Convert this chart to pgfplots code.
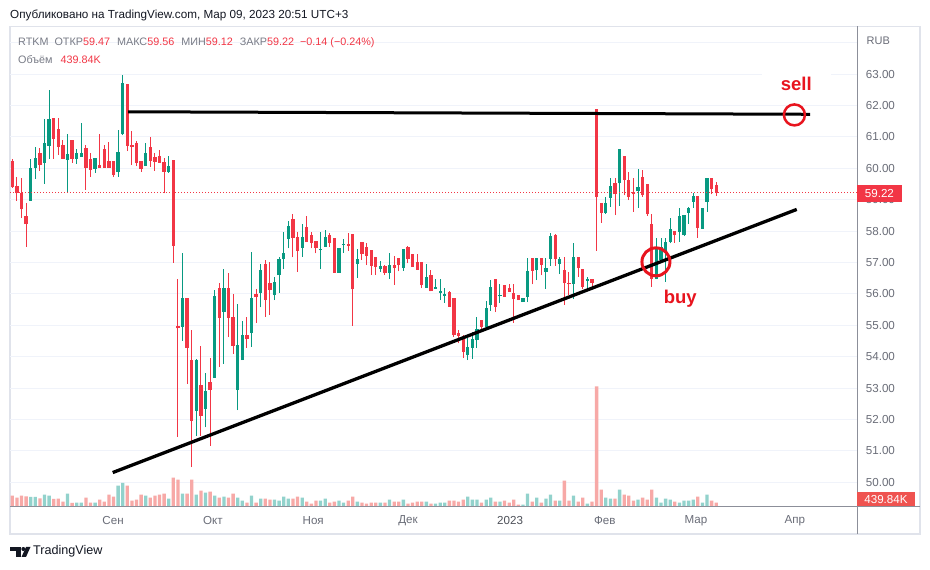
\documentclass[border=0pt]{standalone}
\usepackage{pgfplots}
\pgfplotsset{compat=1.18}
\usepackage{pgfplotstable}
\usepackage{fontspec}
\setmainfont{Liberation Sans}
\definecolor{cgreen}{HTML}{089981}
\definecolor{cred}{HTML}{F23645}
\definecolor{vgreen}{HTML}{92D2CC}
\definecolor{vred}{HTML}{F7A9A7}
\definecolor{tvgray}{HTML}{787B86}
\definecolor{lblgray}{HTML}{6A6D78}
\definecolor{gridc}{HTML}{F0F3FA}
\definecolor{bordc}{HTML}{E0E3EB}
\definecolor{sepc}{HTML}{8C8F99}
\definecolor{txtc}{HTML}{131722}
\definecolor{annred}{HTML}{E8141E}
\definecolor{volbox}{HTML}{EF5350}
\pgfplotstableread{
i o h l c up v
0 60.24 60.30 59.38 59.41 0 1156
1 59.44 59.73 58.97 59.20 0 952
2 59.20 59.70 58.43 58.69 0 1156
3 58.49 58.90 57.50 58.22 0 1088
4 58.97 60.30 58.97 60.01 1 1020
5 60.01 60.68 59.67 60.33 1 1020
6 60.49 60.65 59.92 60.12 0 884
7 60.18 61.57 59.51 60.81 1 1258
8 60.72 62.49 60.30 61.57 1 1156
9 61.60 61.60 60.31 60.94 0 816
10 61.25 61.60 60.43 60.69 0 850
11 60.74 60.90 60.30 60.31 0 544
12 60.27 61.09 59.24 60.46 1 1360
13 60.90 60.90 60.18 60.31 0 408
14 60.31 60.61 60.15 60.49 1 442
15 60.36 61.44 60.36 60.49 1 442
16 60.65 60.74 59.32 60.01 0 952
17 60.31 60.49 59.73 59.96 0 442
18 59.99 60.33 59.86 60.33 1 442
19 60.09 61.09 60.02 60.02 0 748
20 60.61 60.74 60.01 60.01 0 544
21 60.23 60.84 60.02 60.02 0 1258
22 60.23 60.23 59.73 59.80 0 1054
23 59.89 61.22 59.73 60.52 1 2176
24 61.08 62.97 61.05 62.72 1 2448
25 62.68 62.68 60.55 60.71 0 2176
26 60.74 61.19 60.10 60.68 0 646
27 60.82 60.87 60.07 60.18 0 748
28 60.24 60.24 59.89 59.99 0 1258
29 60.07 60.81 60.07 60.49 1 1156
30 60.68 60.99 60.05 60.24 0 952
31 60.36 60.50 59.92 60.21 0 1156
32 60.39 60.58 60.18 60.18 0 1258
33 60.20 60.33 59.20 59.89 0 1360
34 59.89 60.39 59.86 60.07 1 850
35 60.26 60.26 56.99 57.54 0 2992
36 54.98 56.47 51.45 54.90 0 2788
37 54.96 57.31 54.51 55.86 1 1360
38 55.86 55.86 53.14 54.29 0 1360
39 53.89 54.85 50.48 51.96 0 2788
40 52.28 53.93 51.48 53.89 1 1258
41 53.10 54.35 51.48 52.12 0 1666
42 52.33 53.47 51.75 52.91 1 1462
43 53.19 53.97 51.17 52.94 0 1564
44 53.33 56.12 53.33 55.93 1 1156
45 56.19 56.36 53.68 55.24 0 952
46 55.43 56.79 53.77 56.19 1 1054
47 56.19 56.68 54.62 55.24 0 952
48 55.27 56.00 54.09 54.35 0 1360
49 52.94 55.68 52.30 54.37 1 952
50 53.89 55.14 53.89 54.69 1 646
51 54.69 55.25 54.29 54.56 0 442
52 54.76 57.34 54.32 55.87 1 1156
53 56.00 56.17 55.08 55.90 0 442
54 56.04 56.96 55.57 56.76 1 850
55 56.95 57.08 55.27 55.81 0 850
56 56.35 57.00 55.33 56.12 0 748
57 55.96 56.53 55.80 56.38 1 748
58 56.60 57.19 56.04 57.11 1 646
59 57.11 57.96 56.79 57.31 1 1054
60 57.75 58.32 57.45 58.16 1 850
61 58.38 58.54 57.16 57.79 0 850
62 57.82 57.96 56.71 57.38 0 1054
63 57.47 58.23 57.19 57.82 1 952
64 58.12 58.49 57.65 57.65 0 544
65 57.88 57.98 57.45 57.63 0 340
66 57.68 57.68 57.29 57.47 0 646
67 57.39 57.97 56.79 57.42 1 646
68 57.50 58.03 57.50 57.82 1 850
69 57.88 57.93 57.50 57.63 0 442
70 57.79 57.79 56.68 56.68 0 544
71 56.68 57.45 56.68 57.45 1 646
72 57.56 57.75 57.31 57.58 1 442
73 57.60 57.93 57.37 57.54 0 646
74 57.91 57.91 54.98 56.14 0 1054
75 56.95 57.43 56.52 57.11 1 544
76 57.65 57.65 57.08 57.27 0 442
77 57.50 57.61 56.92 57.22 0 340
78 57.40 57.40 56.61 56.90 0 442
79 57.19 57.19 56.61 56.87 0 442
80 56.79 57.05 56.71 56.90 1 442
81 56.90 56.92 56.61 56.68 0 442
82 56.68 57.31 56.48 56.93 1 748
83 56.93 57.21 56.29 56.82 0 544
84 57.14 57.14 56.72 56.93 0 544
85 56.84 57.43 56.74 57.43 1 748
86 57.50 57.54 56.97 57.11 0 340
87 57.27 57.27 56.87 56.87 0 442
88 57.02 57.26 56.77 56.77 0 544
89 57.02 57.02 56.18 56.27 0 544
90 56.19 56.95 56.19 56.53 1 544
91 56.59 56.76 56.08 56.08 0 340
92 56.17 56.49 56.17 56.21 1 340
93 56.04 56.47 55.80 56.10 1 442
94 55.93 56.19 55.72 56.00 1 442
95 56.07 56.10 55.59 55.59 0 646
96 55.86 55.86 54.62 54.69 0 646
97 54.74 54.85 54.42 54.66 0 544
98 54.64 54.69 53.97 54.16 0 748
99 54.05 54.60 53.89 54.32 1 1054
100 54.29 54.78 53.93 54.56 1 748
101 54.53 55.27 54.29 54.88 1 748
102 55.17 55.17 54.82 54.95 0 442
103 54.95 55.78 54.95 55.56 1 748
104 55.65 56.43 55.47 56.22 1 952
105 56.47 56.47 55.42 55.59 0 544
106 55.92 56.31 55.72 55.97 1 544
107 56.28 56.28 55.91 55.91 0 646
108 56.20 56.31 56.07 56.07 0 442
109 56.02 56.31 55.08 55.85 0 748
110 55.95 55.95 55.80 55.80 0 238
111 55.74 55.88 55.74 55.88 1 238
112 55.91 57.14 55.74 56.73 1 1360
113 57.14 57.14 56.30 56.73 0 544
114 56.76 57.14 56.44 57.14 1 952
115 57.14 57.14 56.60 56.92 0 442
116 56.71 57.14 56.16 56.82 1 850
117 57.11 57.93 56.89 57.84 1 1258
118 57.89 57.92 56.90 57.11 0 646
119 56.95 57.19 56.63 57.11 1 646
120 56.76 57.19 55.65 56.34 0 2686
121 56.36 56.70 55.96 56.30 0 646
122 56.33 57.63 55.85 57.16 1 1156
123 57.16 57.16 56.54 56.83 0 544
124 56.78 56.78 56.17 56.23 0 952
125 56.42 56.54 56.17 56.46 1 340
126 56.47 56.49 56.23 56.36 0 544
127 61.88 61.88 57.37 59.09 0 12308
128 58.88 58.88 58.26 58.58 0 1768
129 58.58 59.09 58.56 58.91 1 952
130 59.06 59.70 58.77 59.44 1 850
131 59.52 59.70 58.51 59.17 0 850
132 59.52 60.63 58.81 60.60 1 1768
133 60.40 60.40 59.14 59.64 0 1258
134 59.64 59.89 58.99 59.09 0 1156
135 59.23 59.70 58.61 59.17 0 646
136 59.27 59.97 58.74 59.41 1 748
137 59.73 59.94 59.09 59.14 0 952
138 59.50 59.50 58.49 58.54 0 748
139 58.24 58.54 55.82 56.49 0 1768
140 56.49 57.77 56.47 57.50 1 952
141 57.08 57.77 57.02 57.50 1 442
142 57.29 57.77 56.39 57.66 1 850
143 57.66 58.42 57.61 58.08 1 748
144 58.00 58.00 57.63 57.89 0 544
145 57.98 58.74 57.66 58.48 1 442
146 57.87 58.51 57.84 58.51 1 646
147 58.58 58.77 58.24 58.74 1 646
148 58.93 59.20 58.74 59.12 1 748
149 59.12 59.12 57.79 58.10 0 1054
150 58.08 58.74 58.08 58.74 1 442
151 58.93 59.70 58.61 59.70 1 1258
152 59.68 59.70 59.17 59.33 0 646
153 59.47 59.56 59.12 59.22 0 439.84
}\data
\begin{document}
\begin{tikzpicture}[x=1pt,y=1pt]
\path[use as bounding box, fill=white] (0,0) rectangle (930,570);
% header
\node[anchor=west, inner sep=0, font=\fontsize{11.7}{14}\selectfont, text=txtc] at (10,555) {Опубликовано на TradingView.com, Мар 09, 2023 20:51 UTC+3};
% frame
\draw[bordc, line width=1.5pt] (10,36) rectangle (920,543.5);
\begin{axis}[
  at={(10pt,63pt)}, anchor=south west,
  width=847pt, height=480pt, scale only axis,
  xmin=-0.5, xmax=183.6, ymin=49.213, ymax=64.5,
  axis line style={draw=none},
  major tick length=0pt,
  xtick pos=bottom, ytick pos=right,
  xticklabel pos=bottom, yticklabel pos=right,
  ytick={50,51,52,53,54,55,56,57,58,59,60,61,62,63,64},
  yticklabels={50.00,51.00,52.00,53.00,54.00,55.00,56.00,57.00,58.00,59.00,60.00,61.00,62.00,63.00,{}},
  xtick={21.9,43.6,65.4,86.0,108.2,128.8,148.6,170.1},
  xticklabels={Сен,Окт,Ноя,Дек,\textcolor{txtc!75}{2023},Фев,Мар,Апр},
  ymajorgrids, grid style={gridc, line width=1pt},
  tick label style={font=\fontsize{11.6}{13}\selectfont, text=lblgray},
  yticklabel style={anchor=west, inner sep=0pt, xshift=8.7pt},
  xticklabel style={anchor=center, inner sep=0pt, yshift=-14pt},
  /pgf/number format/assume math mode=true,
]
% volume
\addplot[ybar, bar width=3.3pt, bar shift=0pt, fill=vgreen, draw=none, forget plot,
  restrict expr to domain={\thisrow{up}}{0.5:1.5}]
  table[x=i, y expr={49.213+\thisrow{v}/3202.8}] {\data};
\addplot[ybar, bar width=3.3pt, bar shift=0pt, fill=vred, draw=none, forget plot,
  restrict expr to domain={\thisrow{up}}{-0.5:0.5}]
  table[x=i, y expr={49.213+\thisrow{v}/3202.8}] {\data};
% wicks
\addplot[draw=none, no markers, forget plot,
  restrict expr to domain={\thisrow{up}}{0.5:1.5},
  error bars/.cd, y dir=plus, y explicit, error mark=none,
  error bar style={draw=cgreen, line width=1pt}]
  table[x=i, y=l, y error expr={\thisrow{h}-\thisrow{l}}] {\data};
\addplot[draw=none, no markers, forget plot,
  restrict expr to domain={\thisrow{up}}{-0.5:0.5},
  error bars/.cd, y dir=plus, y explicit, error mark=none,
  error bar style={draw=cred, line width=1pt}]
  table[x=i, y=l, y error expr={\thisrow{h}-\thisrow{l}}] {\data};
% bodies
\addplot[draw=none, no markers, forget plot,
  restrict expr to domain={\thisrow{up}}{0.5:1.5},
  error bars/.cd, y dir=plus, y explicit, error mark=none,
  error bar style={draw=cgreen, line width=3.3pt}]
  table[x=i, y expr={min(\thisrow{o},\thisrow{c})}, y error expr={max(abs(\thisrow{c}-\thisrow{o}),0.035)}] {\data};
\addplot[draw=none, no markers, forget plot,
  restrict expr to domain={\thisrow{up}}{-0.5:0.5},
  error bars/.cd, y dir=plus, y explicit, error mark=none,
  error bar style={draw=cred, line width=3.3pt}]
  table[x=i, y expr={min(\thisrow{o},\thisrow{c})}, y error expr={max(abs(\thisrow{c}-\thisrow{o}),0.035)}] {\data};
% last price line
\addplot[cred, line width=0.8pt, dash pattern=on 1pt off 2pt, forget plot] coordinates {(-0.5,59.22) (183.6,59.22)};
% annotations
\addplot[black, line width=3pt, forget plot] coordinates {(25.2,61.80) (173.4,61.72)};
\addplot[black, line width=3.3pt, forget plot] coordinates {(21.83,50.31) (170.5,58.69)};
\draw[annred, line width=2.5pt] (axis cs:170.0,61.70) circle[radius=10.5pt];
\draw[annred, line width=3pt] (axis cs:139.9,57.02) circle[radius=14pt];
\node[fill=white, minimum width=69pt, inner ysep=3pt, text=annred, font=\bfseries\fontsize{18.5}{20}\selectfont] at (axis cs:170.4,62.68) {sell};
\node[fill=white, minimum width=60pt, inner ysep=3pt, text=annred, font=\bfseries\fontsize{18.5}{20}\selectfont] at (axis cs:145.2,55.84) {buy};
\end{axis}
% separators
\draw[sepc, line width=1pt] (857,36) -- (857,543.5);
\draw[sepc, line width=1pt] (10,63) -- (920,63);
% legend
\node[anchor=west, inner sep=0, font=\fontsize{10.8}{13}\selectfont] at (18,527.5) {\textcolor{tvgray}{RTKM\hspace{6pt}ОТКР}\textcolor{cred}{59.47}\hspace{7pt}\textcolor{tvgray}{МАКС}\textcolor{cred}{59.56}\hspace{7pt}\textcolor{tvgray}{МИН}\textcolor{cred}{59.12}\hspace{7pt}\textcolor{tvgray}{ЗАКР}\textcolor{cred}{59.22}\hspace{6pt}\textcolor{cred}{−0.14 (−0.24\%)}};
\node[anchor=west, inner sep=0, font=\fontsize{10.8}{13}\selectfont] at (18,510) {\textcolor{tvgray}{Объём}\hspace{8pt}\textcolor{cred}{439.84K}};
\node[anchor=west, inner sep=0, font=\fontsize{11}{13}\selectfont, text=lblgray] at (866.5,529.3) {RUB};
% price label boxes
\fill[cred] (857,368) rectangle (901.7,385);
\node[text=white, font=\fontsize{11.6}{13}\selectfont, inner sep=0] at (879.4,376.5) {59.22};
\fill[volbox] (857,63.5) rectangle (915,78.3);
\node[text=white, font=\fontsize{11.6}{13}\selectfont, inner sep=0] at (886,70.9) {439.84K};
% logo
\fill[txtc] (10,19) rectangle (20.5,23);
\fill[txtc] (15.5,13) rectangle (20.5,23);
\fill[txtc] (23.3,21) circle[radius=2];
\fill[txtc] (21.5,13) -- (26,13) -- (30.5,23) -- (26,23) -- cycle;
\node[anchor=west, inner sep=0, font=\fontsize{12.6}{14}\selectfont, text=txtc] at (33,18.5) {TradingView};
\end{tikzpicture}
\end{document}
